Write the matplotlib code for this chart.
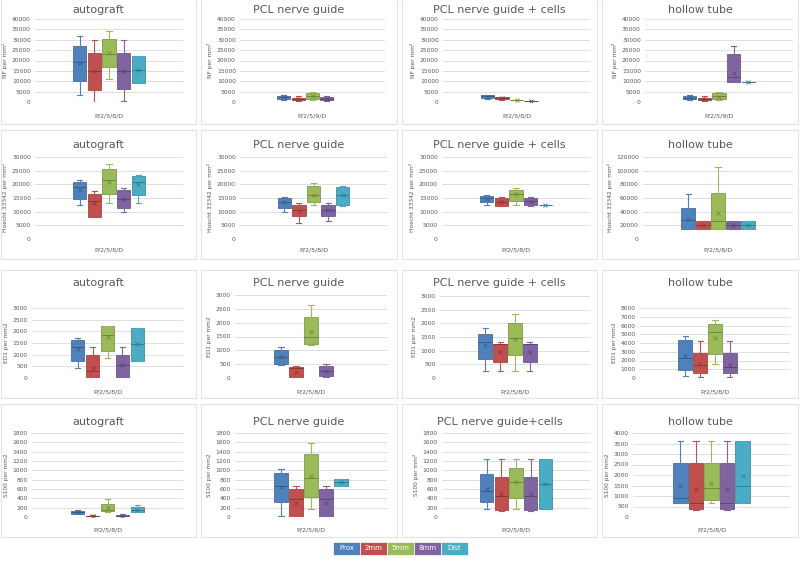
import matplotlib
matplotlib.use('Agg')
import matplotlib.pyplot as plt
from matplotlib.patches import Rectangle

groups = ['Prox', '2mm', '5mm', '8mm', 'Dist']
colors = ['#4F81BD', '#C0504D', '#9BBB59', '#8064A2', '#4BACC6']
darks = ['#385D8A', '#8C3836', '#71893F', '#5C4776', '#357D91']

# each row: [whisker low, Q1, median, Q3, whisker high, mean]; None = no data
nf_autograft = [[3500, 10000, 19500, 27000, 32000, 19000],
                [0, 6000, 15000, 23500, 30000, 15000],
                [11000, 17000, 23000, 30500, 34000, 23500],
                [500, 6500, 15000, 23500, 30000, 15000],
                [9000, 9000, 15500, 22000, 22000, 15500]]
nf_pcl = [[1000, 1500, 2500, 3000, 3500, 2200],
          [500, 800, 1500, 2000, 3000, 1500],
          [1000, 1500, 3000, 4500, 5000, 2800],
          [500, 800, 1500, 2200, 3000, 1600],
          None]
nf_pcl_cells = [[1500, 1800, 2700, 3200, 3500, 2600],
                [1200, 1500, 2000, 2300, 2500, 1900],
                [800, 900, 1000, 1100, 1200, 1000],
                [300, 400, 500, 600, 700, 500],
                None]
nf_hollow = [[1200, 1500, 2000, 2800, 3200, 2200],
             [500, 800, 1500, 2000, 2800, 1400],
             [1000, 1500, 3000, 4500, 5000, 2500],
             [9500, 9500, 12000, 23000, 27000, 14000],
             [9500, 9500, 9500, 9500, 9500, 9500]]

ho_autograft = [[12500, 14500, 19000, 21000, 21500, 18000],
                [8000, 8200, 14000, 16500, 17500, 13000],
                [13000, 16500, 21500, 25500, 27500, 21000],
                [10000, 11500, 14500, 18000, 18500, 14500],
                [13000, 16000, 21000, 23000, 23500, 20000]]
ho_pcl = [[10000, 11500, 13500, 15000, 15500, 13500],
          [6000, 8500, 10500, 12500, 13000, 10200],
          [12500, 13500, 16000, 19500, 20500, 16200],
          [6500, 8500, 10500, 12500, 13000, 10500],
          [12000, 12500, 16000, 19000, 19500, 16000]]
ho_pcl_cells = [[12500, 13500, 15000, 15800, 16000, 14800],
                [12000, 12000, 13500, 15000, 15500, 13500],
                [12500, 14000, 16500, 18000, 18500, 16300],
                [12000, 12500, 14000, 15000, 15200, 13500],
                [12500, 12500, 12500, 12500, 12500, 12500]]
ho_hollow = [[14000, 14000, 28000, 46000, 66000, 30000],
             [14000, 14000, 20000, 26000, 26000, 20000],
             [14000, 14000, 26000, 67000, 106000, 38000],
             [14000, 14000, 20000, 26000, 26000, 20000],
             [14000, 14000, 20000, 26000, 26000, 20000]]

ed_autograft = [[450, 750, 1350, 1650, 1700, 1250],
                [0, 20, 300, 1000, 1350, 450],
                [870, 1150, 1850, 2250, 2250, 1750],
                [0, 20, 550, 1000, 1350, 550],
                [750, 750, 1450, 2150, 2150, 1450]]
ed_pcl = [[480, 500, 750, 1000, 1130, 750],
          [0, 20, 350, 400, 450, 200],
          [1180, 1230, 1500, 2200, 2650, 1680],
          [20, 70, 250, 430, 500, 270],
          None]
ed_pcl_cells = [[250, 700, 1300, 1620, 1830, 1200],
                [250, 570, 1250, 1250, 1320, 950],
                [250, 850, 1450, 2000, 2350, 1430],
                [250, 570, 1250, 1250, 1320, 950],
                None]
ed_hollow = [[200, 900, 2300, 4350, 4800, 2500],
             [100, 550, 1500, 2850, 4200, 1600],
             [1650, 2700, 5300, 6150, 6650, 4600],
             [100, 550, 1300, 2850, 4200, 1500],
             None]

s1_autograft = [[70, 70, 100, 120, 140, 100],
                [0, 10, 20, 30, 40, 20],
                [110, 120, 150, 280, 380, 190],
                [10, 15, 30, 50, 60, 30],
                [100, 100, 150, 220, 260, 160]]
s1_pcl = [[30, 320, 670, 940, 1020, 640],
          [0, 0, 390, 590, 670, 310],
          [170, 420, 840, 1350, 1590, 870],
          [0, 0, 380, 590, 670, 310],
          [660, 660, 740, 820, 820, 740]]
s1_pcl_cells = [[180, 320, 560, 930, 1240, 600],
                [120, 140, 460, 860, 1240, 490],
                [180, 400, 760, 1060, 1240, 740],
                [120, 140, 460, 860, 1240, 490],
                [170, 170, 700, 1250, 1250, 700]]
s1_hollow = [[650, 650, 900, 2560, 3620, 1480],
             [350, 370, 680, 2560, 3620, 1320],
             [680, 800, 1400, 2560, 3620, 1640],
             [350, 370, 680, 2560, 3620, 1320],
             [650, 650, 1500, 3640, 3640, 1940]]

panels = [
    [('autograft', nf_autograft, 'NF per mm²', 'P/2/5/8/D', 40000, 5000),
     ('PCL nerve guide', nf_pcl, 'NF per mm²', 'P/2/5/9/D', 40000, 5000),
     ('PCL nerve guide + cells', nf_pcl_cells, 'NF per mm²', 'P/2/5/8/D', 40000, 5000),
     ('hollow tube', nf_hollow, 'NF per mm²', 'P/2/5/9/D', 40000, 5000)],
    [('autograft', ho_autograft, 'Hoecht 33342 per mm²', 'P/2/5/8/D', 30000, 5000),
     ('PCL nerve guide', ho_pcl, 'Hoecht 33342 per mm²', 'P/2/5/8/D', 30000, 5000),
     ('PCL nerve guide + cells', ho_pcl_cells, 'Hoecht 33342 per mm²', 'P/2/5/8/D', 30000, 5000),
     ('hollow tube', ho_hollow, 'Hoecht 33342 per mm²', 'P/2/5/8/D', 120000, 20000)],
    [('autograft', ed_autograft, 'ED1 per mm2', 'P/2/5/8/D', 3000, 500),
     ('PCL nerve guide', ed_pcl, 'ED1 per mm2', 'P/2/5/8/D', 3000, 500),
     ('PCL nerve guide + cells', ed_pcl_cells, 'ED1 per mm2', 'P/2/5/8/D', 3000, 500),
     ('hollow tube', ed_hollow, 'ED1 per mm2', 'P/2/5/8/D', 8000, 1000)],
    [('autograft', s1_autograft, 'S100 per mm2', 'P/2/5/8/D', 1800, 200),
     ('PCL nerve guide', s1_pcl, 'S100 per mm2', 'P/2/5/8/D', 1800, 200),
     ('PCL nerve guide+cells', s1_pcl_cells, 'S100 per mm²', 'P/2/5/8/D', 1800, 200),
     ('hollow tube', s1_hollow, 'S100 per mm2', 'P/2/5/8/D', 4000, 500)],
]

# layout in pixels (top-left origin)
W, H = 800, 561
frames_x = [(1, 196), (201, 397), (402, 597), (602, 798)]
frames_y = [(-1, 124), (130, 259), (270, 398), (404, 537)]
title_y = [10, 145, 283, 422]
xlab_y = [116, 250, 392, 530]
plot_tb = [[(19, 102)] * 4, [(157, 239)] * 4,
           [(308, 378), (295, 378), (296, 378), (308, 378)], [(433, 517)] * 4]
plot_lr = [[(35, 183), (240, 385), (443, 590), (645, 793)],
           [(35, 183), (240, 387), (442, 590), (643, 793)],
           [(32, 183), (235, 387), (440, 590), (640, 790)],
           [(32, 183), (235, 387), (442, 590), (633, 790)]]

fig = plt.figure(figsize=(W / 100, H / 100), dpi=100)
fig.patch.set_facecolor('white')
gray = '#595959'

for r in range(4):
    for c in range(4):
        fx0, fx1 = frames_x[c]
        fy0, fy1 = frames_y[r]
        fig.patches.append(Rectangle((fx0 / W, 1 - fy1 / H), (fx1 - fx0) / W, (fy1 - fy0) / H,
                                     transform=fig.transFigure, fill=False,
                                     edgecolor='#E3E3E3', lw=0.8))
        title, data, ylab, xlab, ymax, ystep = panels[r][c]
        l, rr = plot_lr[r][c]
        t, b = plot_tb[r][c]
        ax = fig.add_axes([l / W, 1 - b / H, (rr - l) / W, (b - t) / H])
        for i, d in enumerate(data):
            if d is None:
                continue
            st = [dict(whislo=d[0], q1=d[1], med=d[2], q3=d[3], whishi=d[4], mean=d[5], fliers=[])]
            ax.bxp(st, positions=[i + 1], widths=0.92, patch_artist=True, showmeans=True,
                   showfliers=False,
                   boxprops=dict(facecolor=colors[i], edgecolor=darks[i], lw=0.5),
                   whiskerprops=dict(color=colors[i], lw=0.8),
                   capprops=dict(color=colors[i], lw=0.8),
                   medianprops=dict(color=darks[i], lw=0.7),
                   meanprops=dict(marker='x', markeredgecolor=darks[i], markersize=3.5, mew=0.6),
                   capwidths=0.35)
        ax.set_xlim(-2.05, 8.05)
        ax.set_ylim(0, ymax)
        ax.set_yticks(range(0, ymax + 1, ystep))
        ax.set_xticks([])
        ax.grid(axis='y', color='#D9D9D9', lw=0.6)
        ax.set_axisbelow(True)
        for s in ax.spines.values():
            s.set_visible(False)
        ax.tick_params(axis='y', length=0, labelsize=4.3, labelcolor=gray, pad=3)
        ax.set_ylabel(ylab, fontsize=4.2, color=gray, labelpad=2.5)
        fig.text((fx0 + fx1) / 2 / W, 1 - title_y[r] / H, title, ha='center', va='center',
                 fontsize=8, color=gray)
        fig.text((l + rr) / 2 / W, 1 - xlab_y[r] / H, xlab, ha='center', va='center',
                 fontsize=4.6, color=gray)

# legend: colored cells with labels
lx0, ly0, cw, ch = 333, 542, 27, 13
for i, g in enumerate(groups):
    fig.patches.append(Rectangle(((lx0 + i * cw) / W, 1 - (ly0 + ch) / H), cw / W, ch / H,
                                 transform=fig.transFigure, facecolor=colors[i],
                                 edgecolor='white', lw=0.5))
    fig.text((lx0 + i * cw + cw / 2) / W, 1 - (ly0 + ch / 2) / H, g, ha='center', va='center',
             fontsize=5, color='white')

fig.savefig('out.png', dpi=100)
